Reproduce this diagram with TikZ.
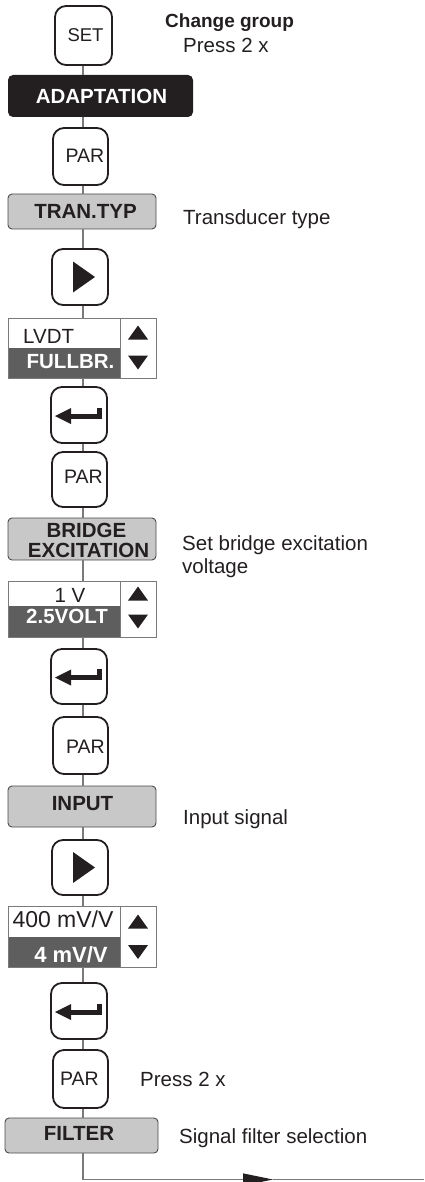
\documentclass[tikz,border=0pt]{standalone}
\usepackage{fontspec}
\setmainfont{Liberation Sans}
\usetikzlibrary{arrows.meta}
\definecolor{ink}{HTML}{231F20}
\definecolor{boxgray}{HTML}{C8C8C8}
\definecolor{selgray}{HTML}{5E5E5E}
\definecolor{conngray}{HTML}{7A7A7A}
\definecolor{edgegray}{HTML}{4A4A4A}
\begin{document}
\begin{tikzpicture}[x=1pt,y=-1pt,
  btn/.style={draw=ink, line width=1.8pt, rounded corners=11pt, fill=white, minimum width=56pt, minimum height=56pt, inner sep=0pt},
  graybox/.style={draw=edgegray, fill=boxgray, line width=0.9pt, rounded corners=4pt, minimum width=148pt, inner sep=0pt},
  blackbox/.style={fill=ink, rounded corners=5pt, inner sep=0pt},
  selframe/.style={draw=conngray, line width=0.9pt, minimum width=148pt, inner sep=0pt},
  conn/.style={draw=conngray, line width=1.2pt},
  txt/.style={font=\fontsize{20.5}{23.5}\selectfont, text=ink, inner sep=0pt, anchor=base},
  sidetxt/.style={txt, anchor=base west},
  keytxt/.style={font=\fontsize{19.5}{22}\selectfont, text=ink, inner sep=0pt, anchor=base},
  btxt/.style={font=\bfseries\fontsize{20.5}{20}\selectfont, text=ink, inner sep=0pt, anchor=base},
  wtxt/.style={btxt, text=white},
]
\useasboundingbox (0,0) rectangle (424,1182);
\coordinate (X) at (83,0);

% ---------- SET / ADAPTATION ----------
\node[btn, minimum width=57pt, minimum height=59pt] (set) at (83.5,35.5) {};
\node[keytxt, font=\fontsize{18.5}{20}\selectfont] (settxt) at (85.5,42) {SET};
\node[sidetxt, font=\bfseries\fontsize{19}{22}\selectfont] (chg) at (165,28) {Change group};
\node[sidetxt] (press1) at (183,53) {Press 2 x};

\node[blackbox, minimum width=185pt, minimum height=42pt] (adapt) at (100.5,96) {};
\node[wtxt] (adapttxt) at (101.5,103.3) {ADAPTATION};

% ---------- PAR 1 / TRAN.TYP ----------
\node[btn, minimum width=55pt, minimum height=57pt] (par1) at (80.5,156.5) {};
\node[keytxt] (par1txt) at (85,163) {PAR};

\node[graybox, minimum height=35pt] (tran) at (82,211.5) {};
\node[btxt] (trantxt) at (85.5,219) {TRAN.TYP};
\node[sidetxt] (trandesc) at (183,225) {Transducer type};

% ---------- play 1 ----------
\node[btn] (play1) at (80,277) {};
\fill[ink] (play1.center) ++(-7,-15.5) -- ++(22,15.5) -- ++(-22,15.5) -- cycle;

% ---------- selection 1 ----------
\fill[selgray] (8,348) rectangle (120,378);
\node[selframe, minimum height=60pt] (sel1) at (82,348) {};
\draw[conngray, line width=0.9pt] (120,318) -- (120,378);
\fill[ink] (138,332.5) ++(-10,7) -- ++(20,0) -- ++(-10,-14) -- cycle;
\fill[ink] (138,362.5) ++(-10,-7) -- ++(20,0) -- ++(-10,14) -- cycle;
\node[txt, anchor=base west] (lvdt) at (23,343) {LVDT};
\node[wtxt] (fullbr) at (70.5,368) {FULLBR.};

% ---------- enter 1 ----------
\node[btn] (enter1) at (79,415) {};
\draw[ink, line width=5pt] (enter1.center) ++(20.5,-7.5) |- ++(-29.5,8.5);
\fill[ink] (enter1.center) ++(-8,-7) -- ++(-16,8) -- ++(16,8) -- cycle;

% ---------- PAR 2 / BRIDGE EXCITATION ----------
\node[btn, minimum width=55pt, minimum height=55pt] (par2) at (79.5,479.5) {};
\node[keytxt] (par2txt) at (83.5,483) {PAR};

\node[graybox, minimum height=42pt] (bridge) at (82,539) {};
\node[btxt] (bridgetxt1) at (86.5,537) {BRIDGE};
\node[btxt] (bridgetxt2) at (88.5,557) {EXCITATION};
\node[sidetxt] (bridgedesc1) at (182,550) {Set bridge excitation};
\node[sidetxt] (bridgedesc2) at (182,573) {voltage};

% ---------- selection 2 ----------
\fill[selgray] (8,606) rectangle (120,637);
\node[selframe, minimum height=56pt] (sel2) at (82,609) {};
\draw[conngray, line width=0.9pt] (120,581) -- (120,637);
\fill[ink] (138,593.5) ++(-10,7) -- ++(20,0) -- ++(-10,-14) -- cycle;
\fill[ink] (138,621.5) ++(-10,-7) -- ++(20,0) -- ++(-10,14) -- cycle;
\node[txt] (onev) at (70,602) {1 V};
\node[wtxt] (volt) at (67,623) {2.5VOLT};

% ---------- enter 2 ----------
\node[btn, minimum height=55pt] (enter2) at (79,676.5) {};
\draw[ink, line width=5pt] (enter2.center) ++(20.5,-7.5) |- ++(-29.5,8.5);
\fill[ink] (enter2.center) ++(-8,-7) -- ++(-16,8) -- ++(16,8) -- cycle;

% ---------- PAR 3 / INPUT ----------
\node[btn, minimum width=55pt, minimum height=57pt] (par3) at (80.5,745.5) {};
\node[keytxt] (par3txt) at (85.5,753) {PAR};

\node[graybox, minimum height=41pt] (input) at (82,806.5) {};
\node[btxt] (inputtxt) at (82.5,810) {INPUT};
\node[sidetxt] (inputdesc) at (183,824) {Input signal};

% ---------- play 2 ----------
\node[btn, minimum height=55pt] (play2) at (80,867.5) {};
\fill[ink] (play2.center) ++(-7,-15.5) -- ++(22,15.5) -- ++(-22,15.5) -- cycle;

% ---------- selection 3 ----------
\fill[selgray] (8,937) rectangle (120,967);
\node[selframe, minimum height=61pt] (sel3) at (82,936.5) {};
\draw[conngray, line width=0.9pt] (120,906) -- (120,967);
\fill[ink] (138,921.5) ++(-10,7) -- ++(20,0) -- ++(-10,-14) -- cycle;
\fill[ink] (138,952) ++(-10,-7) -- ++(20,0) -- ++(-10,14) -- cycle;
\node[txt, font=\fontsize{23}{25}\selectfont] (mvv400) at (63,927) {400 mV/V};
\node[wtxt, font=\bfseries\fontsize{22}{24}\selectfont] (mvv4) at (71,962) {4 mV/V};

% ---------- enter 3 ----------
\node[btn] (enter3) at (79,1011) {};
\draw[ink, line width=5pt] (enter3.center) ++(20.5,-7.5) |- ++(-29.5,8.5);
\fill[ink] (enter3.center) ++(-8,-7) -- ++(-16,8) -- ++(16,8) -- cycle;

% ---------- PAR 4 / FILTER ----------
\node[btn, minimum width=55pt, minimum height=58pt] (par4) at (80.5,1079) {};
\node[keytxt] (par4txt) at (79.5,1085) {PAR};
\node[sidetxt] (press2) at (140,1086) {Press 2 x};

\node[graybox, minimum width=153pt, minimum height=35pt] (filter) at (81.5,1135.5) {};
\node[btxt] (filtertxt) at (79,1140) {FILTER};
\node[sidetxt] (filterdesc) at (179,1143) {Signal filter selection};

% ---------- connectors ----------
\foreach \a/\b in {set/adapt, adapt/par1, par1/tran, tran/play1, play1/sel1,
                   sel1/enter1, enter1/par2, par2/bridge, bridge/sel2, sel2/enter2,
                   enter2/par3, par3/input, input/play2, play2/sel3, sel3/enter3,
                   enter3/par4, par4/filter}
  \draw[conn] (\a.south -| X) -- (\b.north -| X);

\coordinate (arr) at (273,1179.5);
\coordinate (lineend) at (424,1179.5);
\draw[conn, -{Triangle[length=30pt, width=12pt, color=ink]}] (filter.south -| X) |- (arr);
\draw[conn] (arr) -- (lineend);
\end{tikzpicture}
\end{document}
